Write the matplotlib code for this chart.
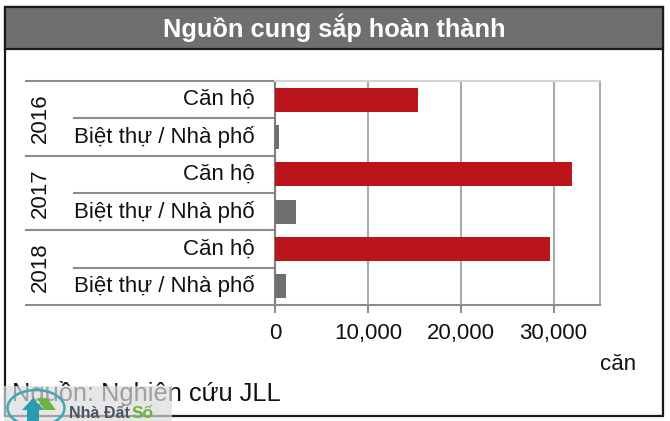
import matplotlib
matplotlib.use("Agg")
import matplotlib.pyplot as plt
from matplotlib.patches import Rectangle, Polygon, Ellipse

plt.rcParams['font.family'] = ['Liberation Sans', 'DejaVu Sans']

W, H = 670, 421

title = "Nguồn cung sắp hoàn thành"
years = ["2016", "2017", "2018"]
categories = ["Căn hộ", "Biệt thự / Nhà phố"] * 3
values = [15400, 400, 32000, 2250, 29600, 1200]
bar_colors = ["#b9151b", "#6d6f71"] * 3
x_ticks = [0, 10000, 20000, 30000]
unit = "căn"
source = "Nguồn: Nghiên cứu JLL"
watermark = ["Nhà Đất", "Số"]

GRID = "#ababab"


def px_axes(fig, left, top, right, bottom):
    return fig.add_axes([left / W, 1 - bottom / H, (right - left) / W, (bottom - top) / H])


fig = plt.figure(figsize=(6.7, 4.21), dpi=100)

# background layer in pixel coordinates, y pointing down
bg = fig.add_axes([0, 0, 1, 1])
bg.set_xlim(0, W)
bg.set_ylim(H, 0)
bg.axis("off")
bg.add_patch(Rectangle((5, 7), 658, 409, fc="white", ec="#1a1a1a", lw=1.6))
bg.add_patch(Rectangle((5, 7), 658, 42, fc="#6d6f71", ec="#1a1a1a", lw=1.6))
bg.text(334, 28, title, color="white", fontsize=18.3, fontweight="bold", ha="center", va="center")
bg.text(618, 364, unit, fontsize=16, ha="center", va="center", color="#111111")
bg.text(12, 394, source, fontsize=18.3, ha="left", va="center", color="#111111")

# chart
ax = px_axes(fig, 275, 81, 600, 305)
ax.patch.set_alpha(0)
pos = list(range(len(values)))
ax.barh(pos, values, height=0.65, color=bar_colors, zorder=3)
ax.set_xlim(0, 35000)
ax.set_ylim(5.5, -0.5)
ax.set_xticks(x_ticks)
ax.set_xticklabels([f"{v:,}" for v in x_ticks], fontsize=16, color="#111111")
ax.set_yticks([])
ax.tick_params(axis="x", length=6, width=1.5, color="#8c8c8c", pad=7)
ax.grid(axis="x", color=GRID, lw=1.5, zorder=1)
for side in ax.spines:
    ax.spines[side].set_color(GRID)
    ax.spines[side].set_linewidth(1.5)
ax.spines["top"].set_color("#d4d4d4")
ax.spines["bottom"].set_color("#8c8c8c")
ax.spines["left"].set_color("#808080")

# row labels and separators on the left of the axis
trans = ax.get_yaxis_transform()
for i, cat in enumerate(categories):
    ax.text(-0.062, i, cat, transform=trans, fontsize=16, ha="right", va="center", color="#111111")
for i in range(7):
    start = -0.766 if i % 2 == 0 else -0.62
    ax.plot([start, 0], [i - 0.5, i - 0.5], transform=trans, color="#8c8c8c", lw=1.5, clip_on=False)
for k, yr in enumerate(years):
    ax.text(-0.723, 2 * k + 0.5, yr, transform=trans, rotation=90, fontsize=16, ha="center", va="center", color="#111111")

# watermark over the bottom left corner
mark = px_axes(fig, 0, 386, 175, 421)
mark.set_xlim(0, 175)
mark.set_ylim(35, 0)
mark.axis("off")
mark.add_patch(Rectangle((4, 0), 168, 35, fc="#dcdcdc", ec="none", alpha=0.7))
mark.add_patch(Ellipse((36, 22), 57, 36, fc="none", ec="#3fa7b5", lw=1.8))
mark.add_patch(Polygon([[22, 24], [33, 12], [44, 24]], fc="#2b9cb0", ec="none"))
mark.add_patch(Rectangle((27, 24), 12, 11, fc="#2b9cb0", ec="none"))
mark.add_patch(Polygon([[37, 12], [47, 12], [56, 24], [44, 24]], fc="#6db33f", ec="none"))
mark.text(69, 27, watermark[0], fontsize=11.5, fontweight="bold", color="#4a5560", ha="left", va="center")
mark.text(132, 27, watermark[1], fontsize=12.5, fontweight="bold", color="#6db33f", ha="left", va="center")

fig.savefig("out.png", dpi=100)
